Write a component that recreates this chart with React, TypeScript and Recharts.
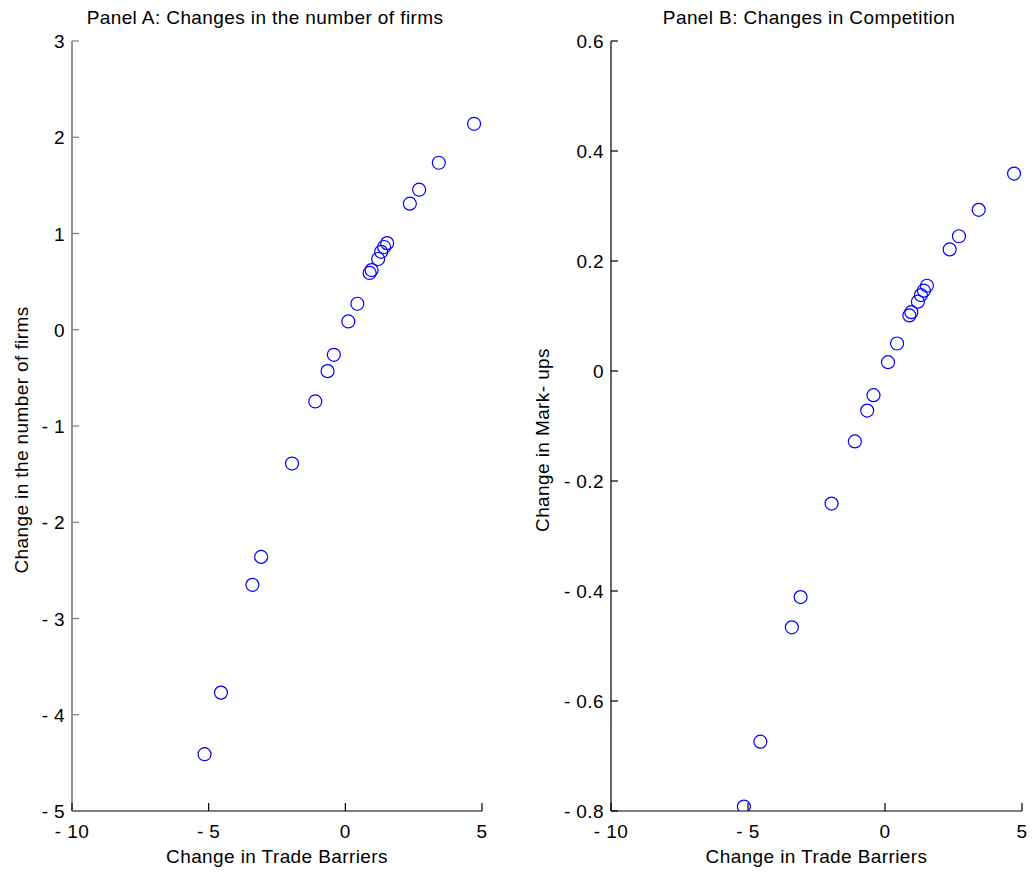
import { ScatterChart, Scatter, XAxis, YAxis, Label } from "recharts";

// change in trade barriers (shared x for both panels)
const tradeBarriers = [-5.15, -4.55, -3.4, -3.08, -1.95, -1.1, -0.65, -0.42, 0.11, 0.44, 0.89, 0.96, 1.2, 1.31, 1.42, 1.53, 2.36, 2.7, 3.42, 4.71];
const firmsChange = [-4.41, -3.77, -2.65, -2.36, -1.39, -0.745, -0.43, -0.26, 0.086, 0.27, 0.59, 0.62, 0.735, 0.81, 0.86, 0.9, 1.31, 1.455, 1.735, 2.14];
const markupChange = [-0.792, -0.674, -0.466, -0.411, -0.241, -0.128, -0.072, -0.044, 0.016, 0.05, 0.101, 0.107, 0.126, 0.138, 0.146, 0.155, 0.221, 0.245, 0.293, 0.359];

const xTicks = [-10, -5, 0, 5];
const firmsTicks = [-5, -4, -3, -2, -1, 0, 1, 2, 3];
const markupTicks = [-0.8, -0.6, -0.4, -0.2, 0, 0.2, 0.4, 0.6];

const font = "'Liberation Sans', Arial, sans-serif";
const fs = 19;
const ls = 0.4;

const fmt = (v: number, d: number) =>
  Math.abs(v) < 1e-9 ? "0" : v < 0 ? `- ${Math.abs(v).toFixed(d)}` : v.toFixed(d);

const panelA = tradeBarriers.map((x, i) => ({ x, y: firmsChange[i] }));
const panelB = tradeBarriers.map((x, i) => ({ x, y: markupChange[i] }));

const circle = (p: any) => (
  <circle cx={p.cx} cy={p.cy} r={6.5} fill="none" stroke="#0000ff" strokeWidth={1.2} />
);

function YTick(props: any) {
  const { x, y, payload, dec, color } = props;
  return (
    <g>
      <line x1={x + 7} x2={x + 14} y1={y} y2={y} stroke={color} strokeWidth={1.2} />
      <text x={x} y={y + 7} textAnchor="end" fontSize={fs} fontFamily={font} letterSpacing={ls} fill="#000">
        {fmt(payload.value, dec)}
      </text>
    </g>
  );
}

function XTick(props: any) {
  const { x, y, payload } = props;
  return (
    <g>
      <line x1={x} x2={x} y1={y} y2={y - 8} stroke="#000" strokeWidth={1.2} />
      <text x={x} y={y + 27} textAnchor="middle" fontSize={fs} fontFamily={font} letterSpacing={ls} fill="#000">
        {fmt(payload.value, 0)}
      </text>
    </g>
  );
}

function Panel(props: any) {
  const { data, yTicks, dec, left, margin, title, titleX, ylabel, ylabelX, yAxisColor, yAxisWidth } = props;
  return (
    <div style={{ position: "absolute", left, top: 0 }}>
      <ScatterChart width={props.width} height={873} margin={margin}>
        <XAxis
          type="number"
          dataKey="x"
          domain={[-10, 5]}
          ticks={xTicks}
          interval={0}
          allowDataOverflow
          tickSize={0}
          tickMargin={0}
          tickLine={false}
          axisLine={{ stroke: "#000", strokeWidth: 1.2 }}
          tick={(p: any) => <XTick {...p} />}
          height={30}
        >
          <Label
            content={({ viewBox }: any) => (
              <text
                x={viewBox.x + viewBox.width / 2}
                y={viewBox.y + 52}
                textAnchor="middle"
                fontSize={fs}
                fontFamily={font}
                letterSpacing={ls}
                fill="#000"
              >
                Change in Trade Barriers
              </text>
            )}
          />
        </XAxis>
        <YAxis
          type="number"
          dataKey="y"
          domain={[yTicks[0], yTicks[yTicks.length - 1]]}
          ticks={yTicks}
          interval={0}
          allowDataOverflow
          width={60}
          tickSize={0}
          tickMargin={7}
          tickLine={false}
          axisLine={{ stroke: yAxisColor, strokeWidth: yAxisWidth }}
          tick={(p: any) => <YTick {...p} dec={dec} color={yAxisColor} />}
        >
          <Label
            content={({ viewBox }: any) => {
              const cy = viewBox.y + viewBox.height / 2 + 14;
              return (
                <text
                  x={ylabelX}
                  y={cy}
                  transform={`rotate(-90, ${ylabelX}, ${cy})`}
                  textAnchor="middle"
                  fontSize={fs}
                  fontFamily={font}
                  letterSpacing={ls}
                  fill="#000"
                >
                  {ylabel}
                </text>
              );
            }}
          />
        </YAxis>
        <Scatter data={data} shape={circle} isAnimationActive={false} />
      </ScatterChart>
      <svg
        width={props.width}
        height={40}
        style={{ position: "absolute", left: 0, top: 0, pointerEvents: "none" }}
      >
        <text x={titleX} y={24} textAnchor="middle" fontSize={fs} fontFamily={font} letterSpacing={ls} fill="#000">
          {title}
        </text>
      </svg>
    </div>
  );
}

export default function App() {
  return (
    <div style={{ position: "absolute", left: 0, top: 0, width: 1033, height: 873, background: "#fff" }}>
      <Panel
        data={panelA}
        yTicks={firmsTicks}
        dec={0}
        left={0}
        width={500}
        margin={{ top: 41, right: 18, left: 12, bottom: 32 }}
        title="Panel A: Changes in the number of firms"
        titleX={265}
        ylabel="Change in the number of firms"
        ylabelX={28}
        yAxisColor="#7a7a7a"
        yAxisWidth={1.6}
      />
      <Panel
        data={panelB}
        yTicks={markupTicks}
        dec={1}
        left={520}
        width={513}
        margin={{ top: 41, right: 11, left: 31, bottom: 32 }}
        title="Panel B: Changes in Competition"
        titleX={289}
        ylabel="Change in Mark- ups"
        ylabelX={29}
        yAxisColor="#000"
        yAxisWidth={1.2}
      />
    </div>
  );
}
